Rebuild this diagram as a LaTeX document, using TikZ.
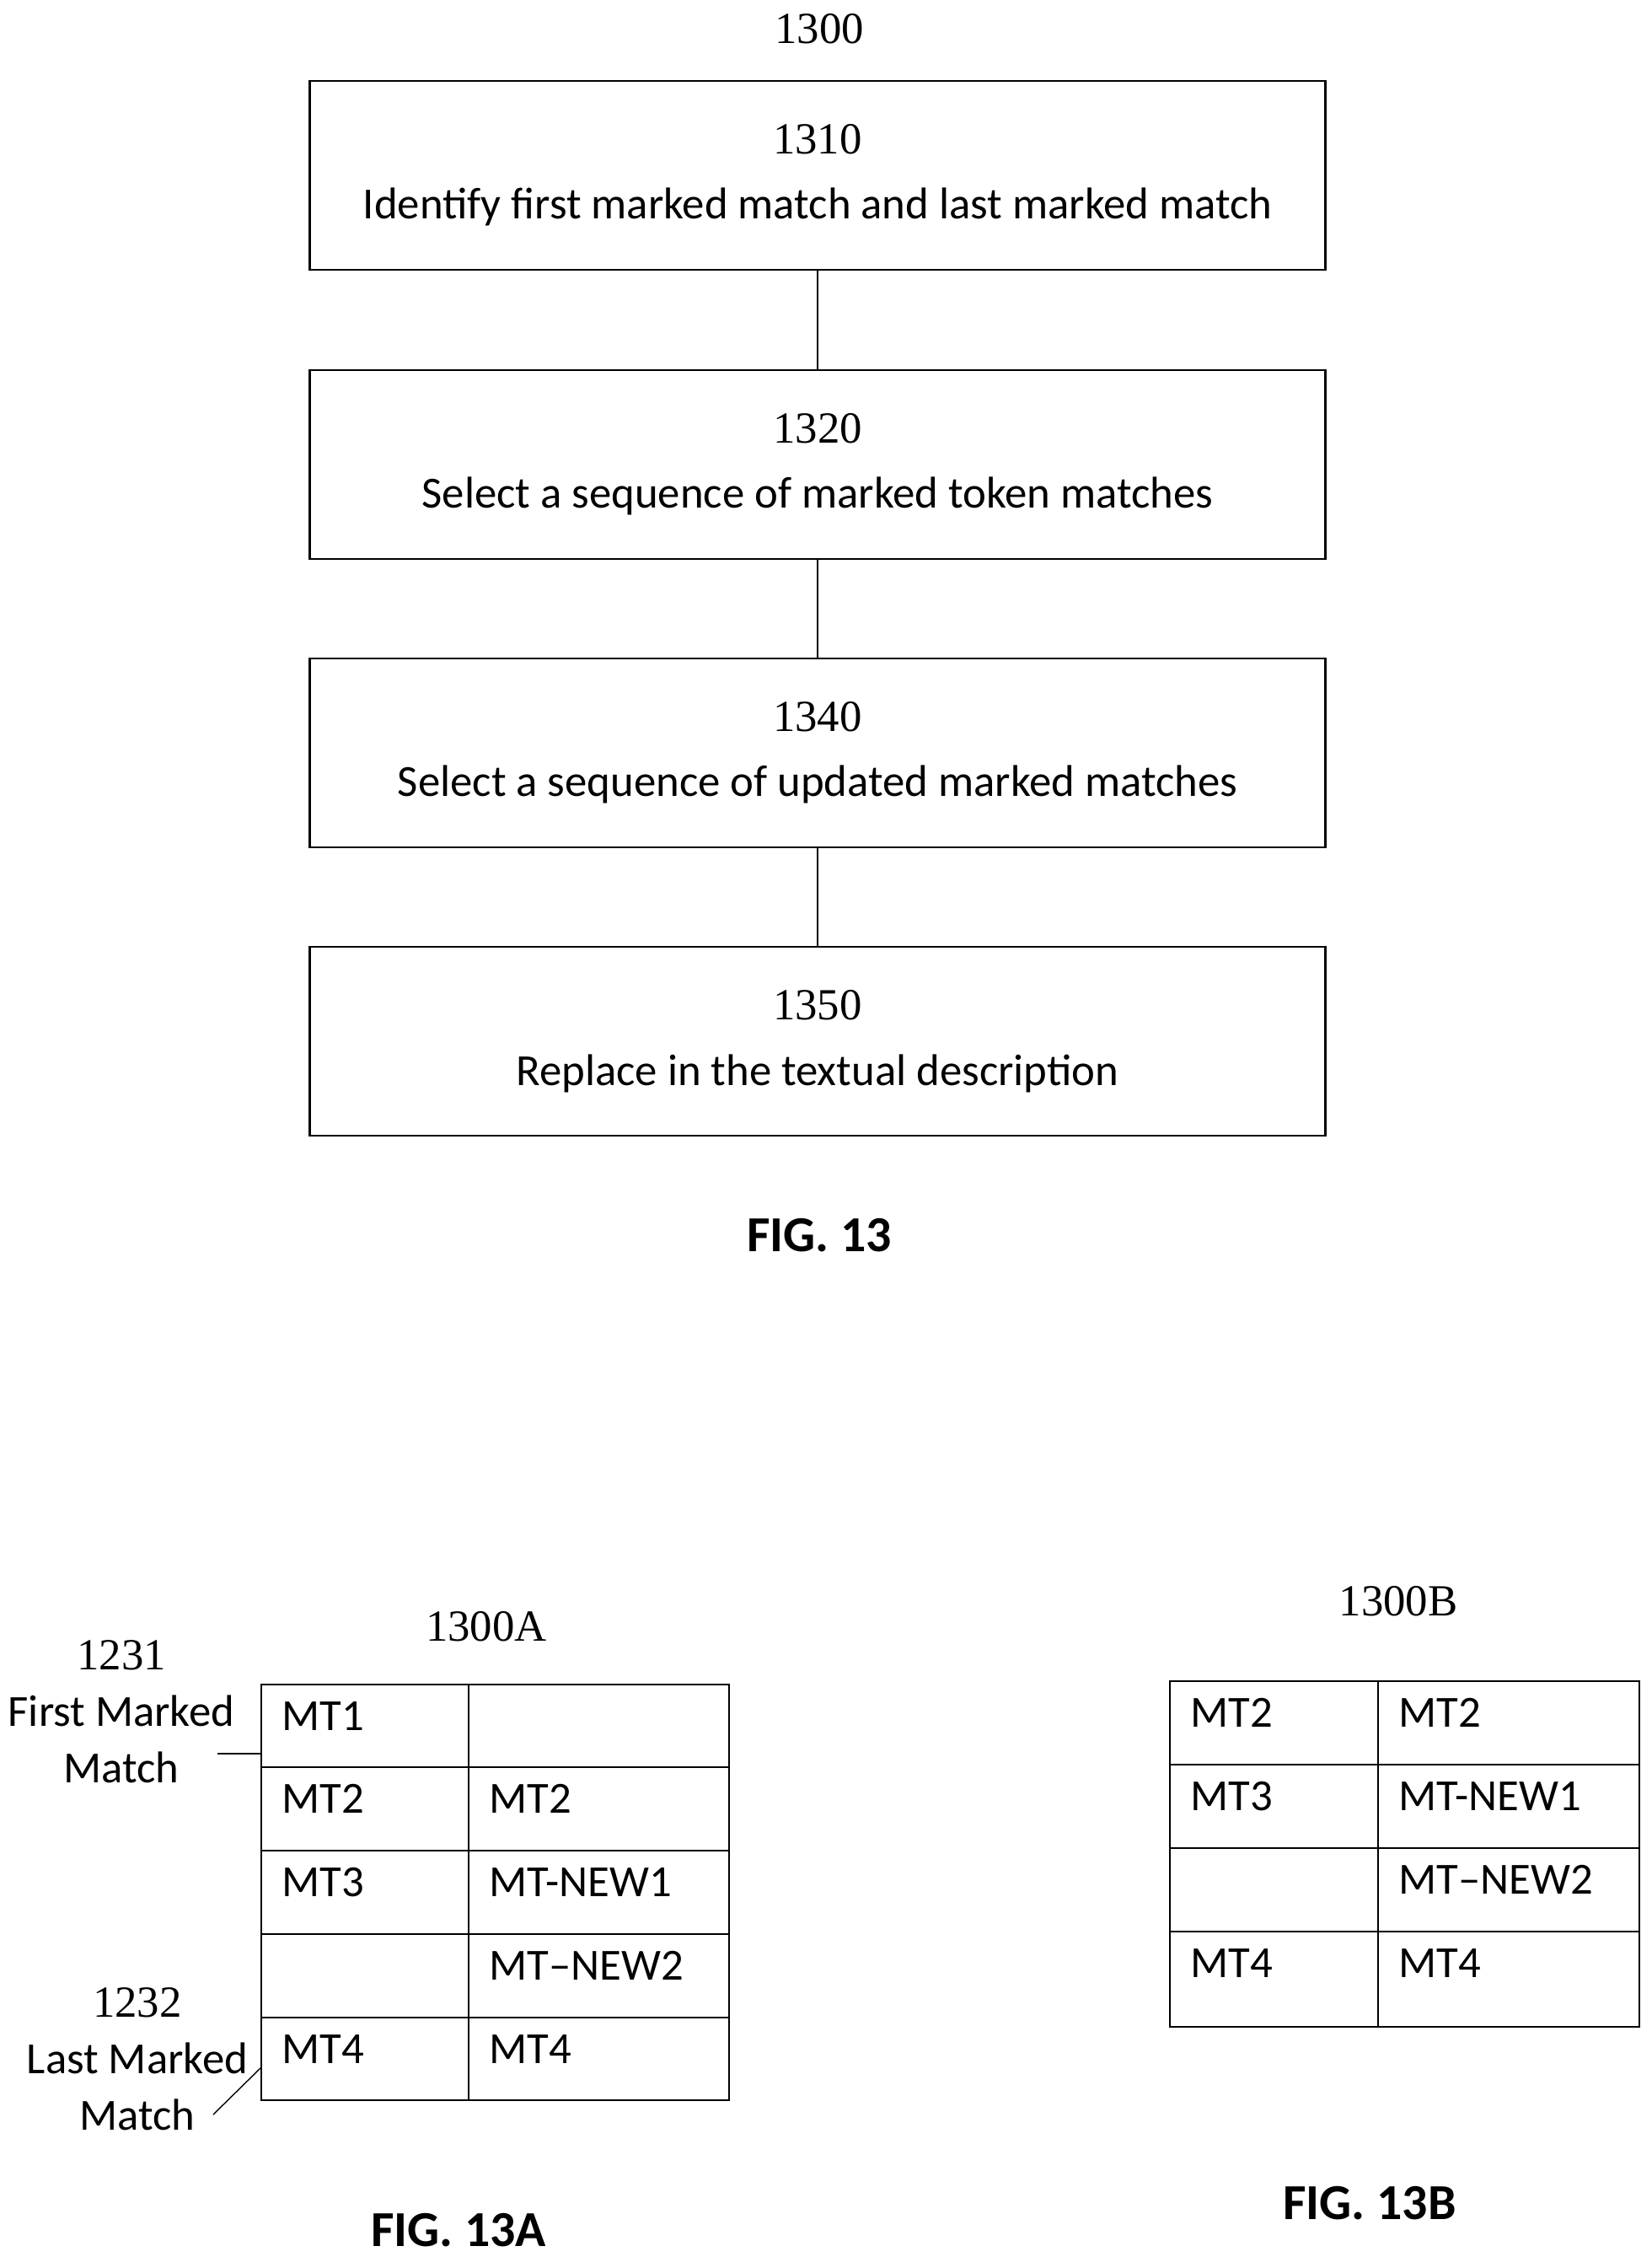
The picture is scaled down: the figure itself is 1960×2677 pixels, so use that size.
\documentclass[tikz,border=0pt]{standalone}
\usepackage{fontspec}
\setmainfont{Carlito}
\newfontfamily\numfont{Liberation Serif}
\usetikzlibrary{positioning, calc}
\tikzset{
	stepbox/.style={
		draw,
		rectangle,
		thick,
		minimum width=12.04cm,
		minimum height=2.24cm,
		align=center,
		font=\fontsize{15}{22}\selectfont
	},
	edge/.style={thick},
	lbl/.style={font=\fontsize{15}{19}\selectfont, align=center},
	cell/.style={anchor=north west, inner sep=0pt, font=\fontsize{15}{19}\selectfont},
	fig/.style={font=\bfseries\fontsize{17}{20}\selectfont}
}

\begin{document}
\begin{tikzpicture}[x=0.01cm, y=-0.01cm]
	\useasboundingbox (0,0) rectangle (1960,2677);
	
	\node[lbl] (title) at (972,34) {\numfont 1300};
	\node(s1310) at (970,208) [stepbox] {{\numfont 1310}\\Identify first marked match and last marked match};
	\node(s1320) at (970,551) [stepbox] {{\numfont 1320}\\Select a sequence of marked token matches};
	\node(s1340) at (970,893) [stepbox] {{\numfont 1340}\\Select a sequence of updated marked matches};
	\node(s1350) at (970,1235) [stepbox] {{\numfont 1350}\\Replace in the textual description};
	\draw[edge](s1310) -- (s1320);
	\draw[edge](s1320) -- (s1340);
	\draw[edge](s1340) -- (s1350);
	\node[fig] (fig13) at (972,1465) {FIG. 13};
	
	% table 1300A
	\node[lbl] (tA) at (577,1929) {\numfont 1300A};
	\draw[thick] (310,1998) rectangle (865,2491);
	\draw[thick] (556,1998) -- (556,2491);
	\foreach \y in {2096,2195,2294,2393}
		\draw[thick] (310,\y) -- (865,\y);
	\node[cell] (a11) at (334,2018) {MT1};
	\node[cell] (a21) at (334,2116) {MT2};
	\node[cell] (a22) at (580,2116) {MT2};
	\node[cell] (a31) at (334,2215) {MT3};
	\node[cell] (a32) at (580,2215) {MT-NEW1};
	\node[cell] (a42) at (580,2314) {MT--NEW2};
	\node[cell] (a51) at (334,2413) {MT4};
	\node[cell] (a52) at (580,2413) {MT4};
	
	\node[lbl] (first) at (144,2030) {{\numfont 1231}\\First Marked\\Match};
	\node[lbl] (last) at (163,2442) {{\numfont 1232}\\Last Marked\\Match};
	\coordinate (firstend) at (310,2080);
	\coordinate (lastend) at (310,2452);
	\coordinate (fs) at (258,2080);
	\coordinate (ls) at (253,2508);
	\draw[thin] (fs) -- (firstend);
	\draw[thin] (ls) -- (lastend);
	\node[fig] (fig13a) at (544,2645) {FIG. 13A};
	
	% table 1300B
	\node[lbl] (tB) at (1659,1899) {\numfont 1300B};
	\draw[thick] (1388,1994) rectangle (1945,2404);
	\draw[thick] (1635,1994) -- (1635,2404);
	\foreach \y in {2093,2192,2291}
		\draw[thick] (1388,\y) -- (1945,\y);
	\node[cell] (b11) at (1412,2014) {MT2};
	\node[cell] (b12) at (1659,2014) {MT2};
	\node[cell] (b21) at (1412,2113) {MT3};
	\node[cell] (b22) at (1659,2113) {MT-NEW1};
	\node[cell] (b32) at (1659,2212) {MT--NEW2};
	\node[cell] (b41) at (1412,2311) {MT4};
	\node[cell] (b42) at (1659,2311) {MT4};
	\node[fig] (fig13b) at (1625,2613) {FIG. 13B};
\end{tikzpicture}
\end{document}
